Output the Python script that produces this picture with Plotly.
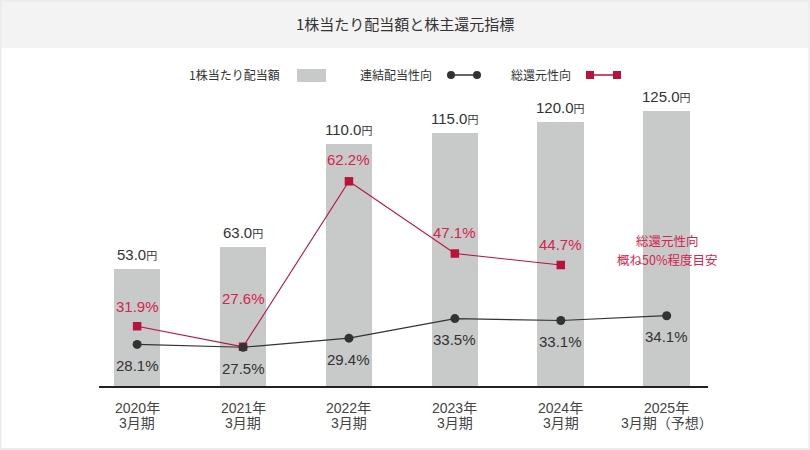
import plotly.graph_objects as go

# ---------------- data ----------------
years = ["2020年", "2021年", "2022年", "2023年", "2024年", "2025年"]
periods = ["3月期", "3月期", "3月期", "3月期", "3月期", "3月期（予想）"]
dividend = [53.0, 63.0, 110.0, 115.0, 120.0, 125.0]          # 1株当たり配当額 (円)
payout = [28.1, 27.5, 29.4, 33.5, 33.1, 34.1]                 # 連結配当性向 (%)
total_return = [31.9, 27.6, 62.2, 47.1, 44.7, None]           # 総還元性向 (%)

title_text = "1株当たり配当額と株主還元指標"
legend_names = ["1株当たり配当額", "連結配当性向", "総還元性向"]
note_lines = ["総還元性向", "概ね50%程度目安"]

# ---------------- style ----------------
FONT = "Liberation Sans, Noto Sans CJK JP, sans-serif"
JP = "Noto Sans CJK JP, sans-serif"
TXT = "#333333"
BAR = "#c8c9c9"
BLK = "#333333"
RED = "#b8133a"
RED_TXT = "#d3254f"

W, H = 810, 450
L, R, T, B = 99, 708, 100, 386
PW, PH = R - L, B - T


def xp(px):
    return (px - L) / PW


def yp(py):
    return (B - py) / PH


xidx = list(range(len(years)))

fig = go.Figure()
fig.add_trace(go.Bar(x=xidx, y=dividend, marker=dict(color=BAR, line=dict(width=0)),
                     width=0.44, yaxis="y", hoverinfo="skip", showlegend=False))
fig.add_trace(go.Scatter(x=xidx, y=total_return, yaxis="y2", mode="lines+markers",
                         line=dict(color=RED, width=1.1),
                         marker=dict(symbol="square", size=8.5, color=RED),
                         connectgaps=False, showlegend=False, hoverinfo="skip"))
fig.add_trace(go.Scatter(x=xidx, y=payout, yaxis="y2", mode="lines+markers",
                         line=dict(color=BLK, width=1.2),
                         marker=dict(symbol="circle", size=9, color=BLK),
                         showlegend=False, hoverinfo="skip"))

ann = []
shapes = []

# title band and outer border
shapes.append(dict(type="rect", xref="paper", yref="paper", x0=xp(0), x1=xp(W), y0=yp(48), y1=yp(0),
                   fillcolor="#f3f3f3", line=dict(width=0), layer="below"))
shapes.append(dict(type="rect", xref="paper", yref="paper", x0=xp(0.5), x1=xp(W - 0.5), y0=yp(H - 1), y1=yp(0.5),
                   fillcolor="rgba(0,0,0,0)", line=dict(color="#ebebeb", width=2)))
ann.append(dict(xref="paper", yref="paper", x=xp(405), y=yp(24), text=title_text, showarrow=False,
                font=dict(family=JP, size=15, color=TXT), xanchor="center", yanchor="middle"))

# legend
ann.append(dict(xref="paper", yref="paper", x=xp(282), y=yp(75), text=legend_names[0], showarrow=False,
                font=dict(family=JP, size=12, color=TXT), xanchor="right", yanchor="middle"))
shapes.append(dict(type="rect", xref="paper", yref="paper", x0=xp(297), x1=xp(326), y0=yp(82), y1=yp(69),
                   fillcolor=BAR, line=dict(width=0)))
ann.append(dict(xref="paper", yref="paper", x=xp(434), y=yp(75), text=legend_names[1], showarrow=False,
                font=dict(family=JP, size=12, color=TXT), xanchor="right", yanchor="middle"))
shapes.append(dict(type="line", xref="paper", yref="paper", x0=xp(451), x1=xp(477), y0=yp(75), y1=yp(75),
                   line=dict(color=BLK, width=1.5)))
for cx in (451, 477):
    shapes.append(dict(type="circle", xref="paper", yref="paper", x0=xp(cx - 4), x1=xp(cx + 4),
                       y0=yp(79), y1=yp(71), fillcolor=BLK, line=dict(width=0)))
ann.append(dict(xref="paper", yref="paper", x=xp(573), y=yp(75), text=legend_names[2], showarrow=False,
                font=dict(family=JP, size=12, color=TXT), xanchor="right", yanchor="middle"))
shapes.append(dict(type="line", xref="paper", yref="paper", x0=xp(590), x1=xp(617), y0=yp(75), y1=yp(75),
                   line=dict(color=RED, width=1.5)))
for cx in (590, 617):
    shapes.append(dict(type="rect", xref="paper", yref="paper", x0=xp(cx - 4), x1=xp(cx + 4),
                       y0=yp(79), y1=yp(71), fillcolor=RED, line=dict(width=0)))

# category labels (two lines, tight spacing)
for i in xidx:
    ann.append(dict(x=i, xref="x", yref="paper", y=yp(408), text=years[i], showarrow=False,
                    xanchor="center", yanchor="middle", font=dict(family=FONT, size=14, color="#444444")))
    ann.append(dict(x=i, xref="x", yref="paper", y=yp(423), text=periods[i], showarrow=False,
                    xanchor="center", yanchor="middle", font=dict(family=FONT, size=14, color="#444444")))

# bar value labels
for i, v in enumerate(dividend):
    ann.append(dict(x=i, y=v, xref="x", yref="y", showarrow=False, yanchor="bottom", yshift=4,
                    text=f"{v:.1f}<span style='font-size:11px'>円</span>",
                    font=dict(family=FONT, size=15, color=TXT)))

# payout labels (below)
for i, v in enumerate(payout):
    ann.append(dict(x=i, y=v, xref="x", yref="y2", showarrow=False, yanchor="middle", yshift=-21,
                    text=f"{v:.1f}%", font=dict(family=FONT, size=15, color=TXT)))

# total return labels (above)
red_shift = [20, 48, 22, 21, 21, 0]
for i, v in enumerate(total_return):
    if v is None:
        continue
    ann.append(dict(x=i, y=v, xref="x", yref="y2", showarrow=False, yanchor="middle", yshift=red_shift[i],
                    text=f"{v:.1f}%", font=dict(family=FONT, size=15, color=RED_TXT)))

# note (two separate lines)
for line, py in zip(note_lines, (240.5, 259.5)):
    ann.append(dict(xref="paper", yref="paper", x=xp(667), y=yp(py), text=line, showarrow=False,
                    font=dict(family=JP, size=12.5, color=RED_TXT), xanchor="center", yanchor="middle",
                    borderpad=0))

fig.update_layout(
    width=W, height=H,
    margin=dict(l=L, r=W - R, t=T, b=H - B, pad=0),
    paper_bgcolor="white", plot_bgcolor="white",
    font=dict(family=FONT, color=TXT),
    xaxis=dict(range=[-0.36, 5.39], tickvals=xidx, showticklabels=False,
               showgrid=False, zeroline=False, showline=True, linecolor="#222222", linewidth=1.5,
               ticks="", fixedrange=True),
    yaxis=dict(range=[0, 130], visible=False, showgrid=False, zeroline=False, fixedrange=True),
    yaxis2=dict(range=[19.4, 79.2], overlaying="y", visible=False, showgrid=False, zeroline=False,
                fixedrange=True),
    shapes=shapes, annotations=ann, bargap=0, showlegend=False,
)

fig.write_html("out.html", config={"displayModeBar": False},
               post_script="document.body.style.margin='0';document.body.style.padding='0';")
